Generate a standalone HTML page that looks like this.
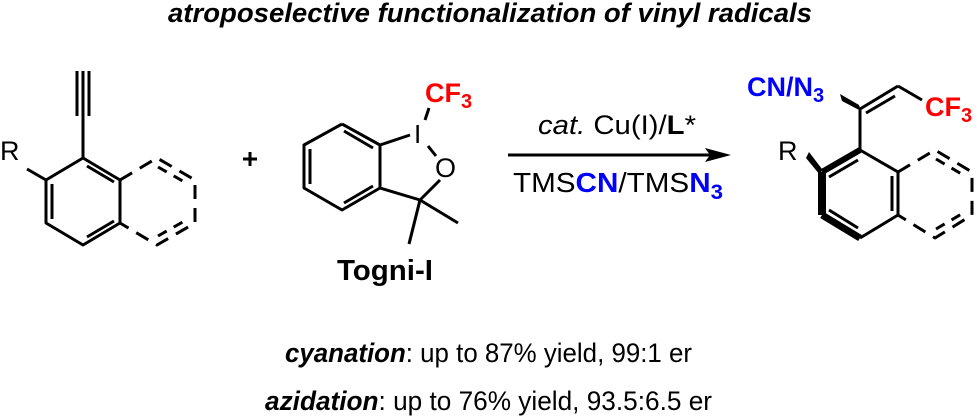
<!DOCTYPE html>
<html><head><style>body{margin:0;background:#fff}svg{display:block}</style></head><body>
<svg width="977" height="419" viewBox="0 0 977 419" xmlns="http://www.w3.org/2000/svg" font-family="Liberation Sans, Arial, sans-serif">
<g stroke="#000" stroke-width="3" fill="none" stroke-linecap="butt" stroke-linejoin="round">
<polyline points="83,158 46,180 46,223 83,245 120,223 120,180 83,158"/>
<line x1="52" y1="184" x2="52" y2="219"/>
<line x1="87" y1="237" x2="114" y2="221"/>
<line x1="87" y1="166" x2="114" y2="182"/>
<polyline points="120,180 157,158 195,180 195,223 157,245 120,223" stroke-dasharray="14,9"/>
<line x1="158" y1="167" x2="188" y2="184" stroke-dasharray="10,8"/>
<line x1="158" y1="236" x2="188" y2="219" stroke-dasharray="10,8"/>
<line x1="83" y1="158" x2="83" y2="116"/>
<line x1="77" y1="116" x2="77" y2="71"/><line x1="83" y1="116" x2="83" y2="71"/><line x1="89" y1="116" x2="89" y2="71"/>
<line x1="27" y1="169" x2="46" y2="180"/>
<line x1="243" y1="159" x2="257" y2="159"/><line x1="250" y1="152" x2="250" y2="166"/>
<polyline points="342,124 304,145 304,188 342,210 380,188 380,145 342,124"/>
<line x1="310" y1="149" x2="310" y2="184"/>
<line x1="344" y1="131" x2="373" y2="148"/>
<line x1="344" y1="203" x2="373" y2="186"/>
<line x1="380" y1="145" x2="410" y2="135"/>
<line x1="425" y1="120" x2="429" y2="108"/>
<line x1="428" y1="146" x2="436" y2="156"/>
<line x1="440" y1="180" x2="420" y2="200"/>
<line x1="380" y1="188" x2="420" y2="200"/>
<line x1="420" y1="200" x2="458" y2="223"/>
<line x1="420" y1="200" x2="409" y2="244"/>
<line x1="508" y1="155" x2="712" y2="155"/>
<line x1="822" y1="172" x2="822" y2="215" stroke-width="8"/>
<line x1="822" y1="215" x2="860" y2="238" stroke-width="7"/>
<line x1="860" y1="238" x2="898" y2="215"/>
<line x1="898" y1="215" x2="898" y2="172"/>
<line x1="898" y1="172" x2="860" y2="150"/>
<line x1="860" y1="150" x2="822" y2="172" stroke-width="6"/>
<line x1="829" y1="210" x2="858" y2="228"/>
<line x1="892" y1="176" x2="892" y2="211"/>
<line x1="829" y1="177" x2="858" y2="160"/>
<polyline points="898,172 935,150 972,172 972,215 935,238 898,215" stroke-dasharray="14,9"/>
<line x1="936" y1="159" x2="965" y2="176" stroke-dasharray="10,8"/>
<line x1="936" y1="229" x2="965" y2="212" stroke-dasharray="10,8"/>
<line x1="860" y1="150" x2="860" y2="109"/>
<line x1="860" y1="109" x2="898" y2="86"/>
<line x1="866" y1="113" x2="895" y2="96"/>
<line x1="898" y1="86" x2="922" y2="100"/>
</g>
<polygon points="806,158 809,152 822,169 820,175" fill="#000"/>
<polygon points="840,94 842,101 861,111 859,105" fill="#000"/>
<polygon points="705,148 731,155 705,162 710,155" fill="#000"/>
<text x="168" y="22" font-size="27" font-weight="bold" font-style="italic" textLength="644" lengthAdjust="spacingAndGlyphs">atroposelective functionalization of vinyl radicals</text>
<text x="0" y="160" font-size="27">R</text>
<text x="778" y="160" font-size="27">R</text>
<text x="425" y="102" font-size="27" font-weight="bold" fill="#f00">CF<tspan font-size="20" dy="6">3</tspan></text>
<text x="414" y="143" font-size="26">I</text>
<text x="435" y="177" font-size="27">O</text>
<text x="337" y="280" font-size="29" font-weight="bold" textLength="96" lengthAdjust="spacingAndGlyphs">Togni-I</text>
<text x="538" y="134" font-size="27" textLength="158" lengthAdjust="spacingAndGlyphs"><tspan font-style="italic">cat.</tspan> Cu(I)/<tspan font-weight="bold">L</tspan>*</text>
<text x="513" y="192" font-size="28" textLength="210" lengthAdjust="spacingAndGlyphs">TMS<tspan fill="#00f" font-weight="bold">CN</tspan>/TMS<tspan fill="#00f" font-weight="bold">N<tspan font-size="21" dy="7">3</tspan></tspan></text>
<text x="747" y="96" font-size="27" font-weight="bold" fill="#00f">CN/N<tspan font-size="20" dy="6">3</tspan></text>
<text x="925" y="116" font-size="27" font-weight="bold" fill="#f00">CF<tspan font-size="20" dy="6">3</tspan></text>
<text x="285" y="362" font-size="27" textLength="407" lengthAdjust="spacingAndGlyphs"><tspan font-weight="bold" font-style="italic">cyanation</tspan>: up to 87% yield, 99:1 er</text>
<text x="265" y="410" font-size="27" textLength="447" lengthAdjust="spacingAndGlyphs"><tspan font-weight="bold" font-style="italic">azidation</tspan>: up to 76% yield, 93.5:6.5 er</text>
</svg>
</body></html>
